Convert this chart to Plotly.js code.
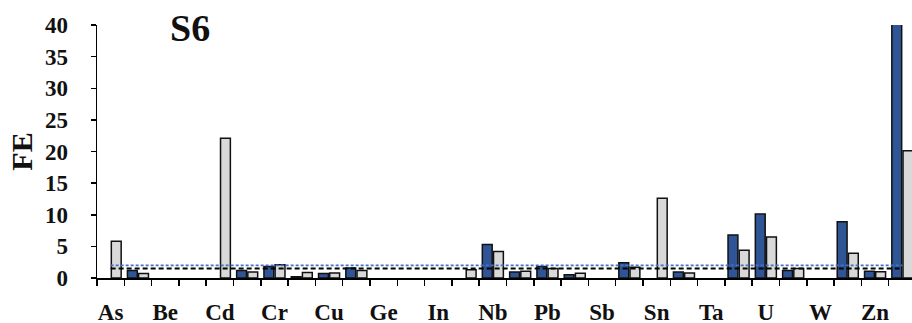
<!DOCTYPE html>
<html>
<head>
<meta charset="utf-8">
<script src="https://cdn.plot.ly/plotly-3.0.1.min.js"></script>
<style>
  html, body { margin: 0; padding: 0; overflow: hidden; background: #fff; }
  #chart { width: 916px; height: 323px; }
</style>
</head>
<body>
<div id="chart"></div>
<script>
// Categories (elements), every other one labelled on the axis
const categories = ['As','Ba','Be','Bi','Cd','Co','Cr','Cs','Cu','Ga','Ge','Hf','In','Mo','Nb',
                    'Ni','Pb','Rb','Sb','Sc','Sn','Sr','Ta','Th','U','V','W','Y','Zn','Zr'];
const tickLabels = ['As','','Be','','Cd','','Cr','','Cu','','Ge','','In','','Nb',
                    '','Pb','','Sb','','Sn','','Ta','','U','','W','','Zn',''];
// Series values (FE)
const blueSeries = [null,1.2,null,null,null,1.2,1.8,0.2,0.7,1.6,null,null,null,null,5.3,
                    0.95,1.8,0.5,null,2.4,null,0.95,null,6.8,10.1,1.2,null,8.9,1.05,42];
const graySeries = [5.8,0.7,null,null,22.1,0.95,2.1,0.85,0.8,1.2,null,null,null,1.3,4.2,
                    1.05,1.5,0.75,null,1.7,12.6,0.8,null,4.4,6.5,1.5,null,3.9,1.0,20.1];
// Reference levels
const blackLevel = 1.5;
const blueLevel = 2.0;
const panelLabel = 'S6';
const yTitle = 'FE';

const serif = 'Liberation Serif';
const pos = categories.map((c, i) => i);

const traces = [
  { type: 'bar', x: pos, y: blueSeries, text: categories, hoverinfo: 'text+y', textposition: 'none',
    marker: { color: '#2F5597', line: { color: '#111', width: 1.5 } } },
  { type: 'bar', x: pos, y: graySeries, text: categories, hoverinfo: 'text+y', textposition: 'none',
    marker: { color: '#D9D9D9', line: { color: '#111', width: 1.5 } } },
  { type: 'scatter', mode: 'lines', x: pos, y: categories.map(() => blackLevel),
    line: { color: '#000', width: 2, dash: '5px,3px' } },
  { type: 'scatter', mode: 'lines', x: pos, y: categories.map(() => blueLevel),
    line: { color: '#4472C4', width: 1.8, dash: '3px,2px' } },
  // invisible carrier so the label axis is drawn
  { type: 'scatter', mode: 'markers', x: pos, y: categories.map(() => null),
    xaxis: 'x2', hoverinfo: 'skip', marker: { opacity: 0 } }
];

const layout = {
  width: 916, height: 323,
  margin: { l: 97, r: 0, t: 25, b: 45 },
  showlegend: false,
  paper_bgcolor: '#fff', plot_bgcolor: '#fff',
  barmode: 'group', bargap: 0.18, bargroupgap: 0.12,
  font: { family: serif, color: '#000' },
  xaxis: {
    type: 'linear', range: [-0.5, 29.5],
    tickmode: 'linear', tick0: -0.5, dtick: 1,
    ticks: 'outside', ticklen: 6, tickwidth: 1.5, tickcolor: '#000',
    showticklabels: false,
    showline: true, linecolor: '#000', linewidth: 1.5,
    showgrid: false, zeroline: false, automargin: false, fixedrange: true
  },
  xaxis2: {
    type: 'linear', range: [-0.5, 29.5], overlaying: 'x', anchor: 'y', side: 'bottom',
    tickmode: 'array', tickvals: pos, ticktext: tickLabels,
    ticks: 'outside', ticklen: 13, tickwidth: 1, tickcolor: 'rgba(0,0,0,0)',
    showline: false, showgrid: false, zeroline: false,
    tickfont: { family: serif, size: 23, weight: 'bold', color: '#111' },
    tickangle: 0, automargin: false, fixedrange: true
  },
  yaxis: {
    range: [0, 40], dtick: 5, tick0: 0,
    ticks: 'outside', ticklen: 5, tickwidth: 1.5, tickcolor: '#000',
    showline: true, linecolor: '#000', linewidth: 1.5, showgrid: false, zeroline: false,
    tickfont: { family: serif, size: 23, weight: 'bold', color: '#111' },
    ticklabelstandoff: 18, automargin: false,
    title: { text: yTitle, font: { family: serif, size: 30, weight: 'bold', color: '#111' }, standoff: 3 },
    fixedrange: true
  },
  annotations: [{
    text: panelLabel, xref: 'paper', yref: 'paper', x: 0.1136, y: 0.99,
    xanchor: 'center', yanchor: 'middle', showarrow: false,
    font: { family: serif, size: 38, weight: 'bold', color: '#111' }
  }]
};

Plotly.newPlot('chart', traces, layout, { staticPlot: true, displayModeBar: false });
</script>
</body>
</html>
